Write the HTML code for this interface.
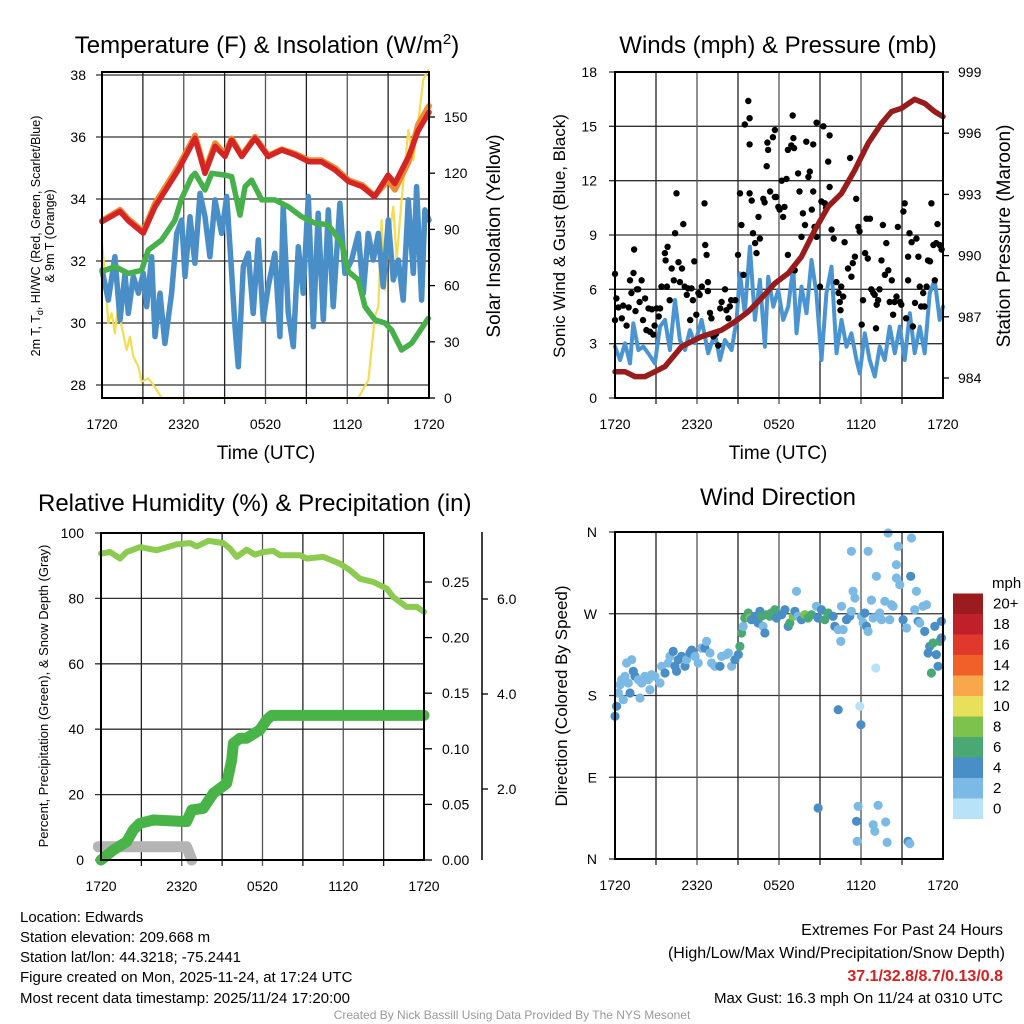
<!DOCTYPE html>
<html><head><meta charset="utf-8">
<style>
html,body{margin:0;padding:0;background:#fff;}
svg{display:block;font-family:"Liberation Sans",sans-serif;}
</style></head>
<body>
<svg id="chart" width="1024" height="1024" viewBox="0 0 1024 1024" xmlns="http://www.w3.org/2000/svg">
<rect width="1024" height="1024" fill="#fff"/>
<g id="p1"></g>
<g id="p2"></g>
<g id="p3"></g>
<g id="p4"></g>
<g font-size="15" fill="#000">
<text x="20" y="922">Location: Edwards</text>
<text x="20" y="942">Station elevation: 209.668 m</text>
<text x="20" y="962">Station lat/lon: 44.3218; -75.2441</text>
<text x="20" y="982">Figure created on Mon, 2025-11-24, at 17:24 UTC</text>
<text x="20" y="1003">Most recent data timestamp: 2025/11/24 17:20:00</text>
</g>
<g font-size="16" text-anchor="end">
<text x="1003" y="935">Extremes For Past 24 Hours</text>
<text x="1005" y="958">(High/Low/Max Wind/Precipitation/Snow Depth)</text>
<text x="1003" y="981" fill="#d42020" font-weight="bold">37.1/32.8/8.7/0.13/0.8</text>
<text x="1003" y="1003" font-size="15">Max Gust: 16.3 mph On 11/24 at 0310 UTC</text>
</g>
<text x="512" y="1019" font-size="12" fill="#999" text-anchor="middle">Created By Nick Bassill Using Data Provided By The NYS Mesonet</text>
</svg>
<script>
// ---------- DATA ----------
const xTickLabels = ["1720","2320","0520","1120","1720"];
// Panel 1
const tempHours = [0,1.32,1.93,3.03,3.89,5.6,6.83,7.56,8.3,9.03,9.52,10.25,11.23,12.2,13.2,14.2,15.2,16.1,17.1,18.1,19.1,20.0,21.0,21.5,22.5,23.2,24];
const tempVals = [33.27,33.6,33.3,32.9,33.75,34.94,35.96,34.83,35.7,35.37,35.9,35.37,35.96,35.37,35.58,35.42,35.2,35.2,34.94,34.56,34.4,34.07,34.77,34.5,35.37,36.2,36.8];
const orangeVals = [33.3,33.65,33.35,32.95,33.85,35.05,36.05,34.9,35.8,35.45,35.95,35.4,36.0,35.4,35.6,35.45,35.25,35.25,35.0,34.6,34.45,34.1,34.6,34.3,35.2,36.4,37.0];
const dewHours = [0,0.95,1.93,2.91,3.4,4.38,5.36,5.85,6.58,6.83,7.56,8.05,9.03,9.52,10.13,10.5,10.98,11.72,12.7,13.68,14.65,15.63,16.61,17.59,18.08,18.81,19.3,20.03,20.77,21.26,21.99,22.73,23.22,23.95];
const dewVals = [31.66,31.82,31.6,31.7,32.35,32.68,33.32,34.02,34.72,34.83,34.29,34.83,34.77,34.72,33.48,34.4,34.61,33.97,33.97,33.75,33.43,33.22,33.17,32.57,31.66,31.39,30.53,30.1,30.0,29.77,29.13,29.35,29.67,30.15];
const wcHours = [0,0.46,0.95,1.32,1.69,1.93,2.3,2.67,3.03,3.28,3.64,3.89,4.26,4.62,5.11,5.48,5.85,6.09,6.46,6.82,7.19,7.56,7.92,8.29,8.78,9.15,9.52,9.76,10.0,10.37,10.74,11.1,11.47,11.84,12.2,12.69,13.06,13.3,13.67,14.04,14.41,14.77,15.14,15.51,15.87,16.24,16.61,16.97,17.46,17.83,18.32,18.81,19.18,19.54,19.91,20.28,20.64,21.01,21.38,21.75,22.11,22.48,22.85,23.09,23.46,23.7,24];
const wcVals = [31.71,30.74,32.14,30.10,31.60,30.31,31.50,30.96,31.60,30.53,32.14,29.56,30.96,29.34,30.96,32.89,33.32,31.50,33.43,31.93,34.18,33.43,32.14,33.97,32.89,34.08,31.60,29.88,28.59,31.82,32.25,30.31,32.68,30.10,31.17,32.25,29.56,33.75,30.31,29.24,32.46,30.96,34.08,29.88,33.54,30.10,33.65,30.53,33.86,31.60,32.03,32.89,30.96,32.89,32.03,32.89,31.17,33.32,31.39,32.03,30.74,33.97,31.60,34.40,30.74,33.65,33.32];
const solarHours = [0,0.24,0.46,0.71,0.95,1.2,1.44,1.81,2.05,2.3,2.67,2.91,3.4,3.77,4.38,18.81,19.55,20.03,20.28,20.52,20.77,21.01,21.38,21.62,21.99,22.48,22.85,23.22,23.58,23.95];
const solarVals = [82.6,64.8,39.9,45.2,34.5,50.5,38.1,25.6,32.7,22.1,16.7,8.7,10.5,6.9,0,0,9.6,43.4,48.8,95,57.7,82.6,102.1,73.7,105.7,143,127,148,170,175];
const tempTicks = [28,30,32,34,36,38];
const solarTicks = [0,30,60,90,120,150];
// Panel 2
const pressHours = [0,0.73,1.46,2.19,2.92,3.65,4.87,6.34,7.8,8.77,9.75,10.72,11.7,12.67,13.65,14.62,15.6,16.57,17.55,18.52,19.5,20.23,20.96,21.93,22.66,23.39,24];
const pressVals = [984.31,984.31,984.07,984.07,984.31,984.56,985.54,986.03,986.35,986.76,987.25,987.91,988.64,989.13,989.95,991.25,992.4,993.05,994.2,995.5,996.48,997.06,997.22,997.66,997.46,997.06,996.81];
const windHours = [0,0.37,0.73,1.1,1.34,1.71,2.07,2.44,2.92,3.29,3.66,4.02,4.39,4.75,5.12,5.48,5.85,6.34,6.82,7.31,7.68,8.04,8.53,8.9,9.14,9.5,9.87,10.24,10.6,10.97,11.21,11.58,11.94,12.31,12.67,13.04,13.28,13.65,14.01,14.38,14.74,15.11,15.47,15.84,16.21,16.57,16.94,17.3,17.67,17.91,18.28,18.64,19.01,19.37,19.74,20.1,20.47,20.84,21.2,21.57,21.93,22.3,22.66,23.03,23.39,23.76,24];
const windVals = [2.83,2.10,3.02,1.91,4.12,2.65,2.83,2.47,1.91,3.94,4.31,2.65,5.41,3.2,2.65,3.75,3.02,4.31,2.47,3.57,2.10,3.2,2.65,4.31,6.88,4.68,8.36,4.31,6.52,2.83,6.7,5.04,5.96,4.31,5.04,7.25,3.57,6.15,4.68,7.62,5.78,2.10,5.78,7.25,2.47,4.31,2.83,3.57,2.10,1.36,3.57,2.10,1.18,2.83,2.10,3.94,2.47,3.94,2.10,4.68,2.47,3.94,2.47,5.78,6.52,4.31,5.04];
const gustHours = [0,0,0.1,0.25,0.6,0.5,0.85,1.0,1.1,1.2,1.4,1.35,1.5,1.6,1.7,1.8,1.95,2.05,2.2,2.3,2.45,2.55,2.7,2.8,2.9,3.05,3.2,3.3,3.4,3.65,3.7,3.85,3.8,4.0,4.15,4.3,4.4,4.5,4.65,4.75,4.9,5.0,5.1,5.25,5.35,5.5,5.6,5.7,5.8,5.95,6.1,6.2,6.35,6.55,6.6,6.7,6.8,6.8,6.95,7.05,7.2,7.4,7.55,7.7,7.8,8.05,8.15,8.3,8.4,8.5,8.8,9.0,9.15,9.25,9.4,9.5,9.75,9.85,9.85,9.85,10.0,10.1,10.25,10.35,10.5,10.6,10.85,10.95,11.1,11.15,11.2,11.35,11.55,11.7,11.7,11.8,11.95,12.05,12.2,12.3,12.4,12.55,12.65,12.65,12.9,13.05,13.1,13.0,13.15,13.4,13.5,13.65,13.75,13.9,14.0,14.15,14.25,14.4,14.5,14.5,14.6,14.75,14.75,15.0,15.1,15.25,15.35,15.45,15.6,15.7,15.7,15.85,16.0,16.2,16.35,16.45,16.5,16.55,16.7,16.8,17.05,17.2,17.3,17.4,17.55,17.65,17.8,17.9,18.05,18.15,18.3,18.4,18.5,18.65,18.75,18.9,19.0,19.1,19.15,19.25,19.35,19.5,19.6,19.75,19.85,20.0,20.1,20.25,20.35,20.45,20.6,20.7,20.85,20.95,21.1,21.2,21.3,21.45,21.45,21.55,21.7,21.8,21.95,22.05,22.2,22.3,22.4,22.55,22.65,22.8,22.9,23.05,23.15,23.3,23.4,23.5,23.6,23.75,23.9];
const gustVals = [6.85,4.3,5.5,5.0,5.1,4.4,4.0,5.0,6.5,5.8,8.2,6.9,4.8,6.0,6.0,5.3,6.5,4.3,5.5,3.75,4.95,3.66,4.9,3.5,4.0,4.95,4.5,4.95,6.15,8.0,7.6,8.35,6.15,5.4,7.15,6.5,9.1,11.3,7.5,6.4,7.15,9.6,6.15,5.7,6.05,4.3,6.05,5.4,7.55,4.6,5.8,5.7,6.15,10.75,8.45,7.9,6.4,5.9,4.7,4.4,3.4,3.55,2.9,4.95,5.3,6.0,4.85,4.4,5.05,5.4,5.4,7.9,11.3,9.55,6.8,15.1,16.4,15.45,14.0,11.3,10.9,9.1,8.55,8.0,10.0,8.8,11.0,10.8,12.8,14.1,13.7,11.4,14.4,14.8,11.1,11.1,10.55,10.4,12.0,10.0,10.55,12.1,7.9,13.7,13.95,14.35,13.8,15.6,7.05,12.4,11.4,8.9,10.2,9.55,14.15,12.2,12.5,10.4,11.4,14.0,9.45,15.2,8.9,6.15,10.85,15.0,10.75,10.5,13.05,14.5,11.65,9.3,8.8,6.4,5.8,5.3,4.85,6.15,5.6,8.6,7.15,13.25,6.7,7.45,7.8,11.0,9.45,9.2,4.05,5.4,8.0,9.9,7.7,9.9,6.0,5.8,5.7,3.85,5.15,5.4,6.0,7.6,9.55,6.8,8.55,7.05,5.3,6.5,4.6,5.3,5.6,9.45,5.3,5.15,10.3,10.75,4.4,7.8,6.5,9.1,8.6,3.95,5.25,8.8,7.8,6.15,5.05,5.8,5.05,6.15,7.6,7.55,10.75,8.45,6.5,8.55,9.6,8.45,8.2];
const windTicks = [0,3,6,9,12,15,18];
const pressTicks = [984,987,990,993,996,999];
// Panel 3
const rhHours = [0,0.67,1.41,1.91,2.9,4.14,5.62,6.61,7.11,7.98,9.09,9.59,10.08,10.82,11.44,12.06,12.81,13.3,14.79,15.28,16.52,17.76,18.5,19.25,20.24,21.23,21.72,22.71,23.46,24];
const rhVals = [93.7,94.2,92.2,94.2,95.7,94.7,96.5,96.9,95.9,97.6,96.9,95.2,92.7,94.9,93.4,94.2,94.5,93.2,93.2,92.2,92.7,90.6,88.6,86.0,85.0,83.0,80.4,77.4,77.4,75.9];
const precipHours = [0,0.92,1.91,2.4,2.9,3.89,6.36,6.75,7.6,8.35,9.34,9.71,9.84,10.33,10.82,11.81,12.31,12.68,24];
const precipVals = [0,0.009,0.0165,0.027,0.033,0.036,0.0345,0.045,0.0465,0.06,0.069,0.09,0.105,0.1095,0.1095,0.117,0.126,0.13,0.13];
const snowHours = [-0.2,6.36,6.75];
const snowVals = [0.012,0.012,0.0];
const rhTicks = [0,20,40,60,80,100];
const precipTicks = ["0.00","0.05","0.10","0.15","0.20","0.25"];
const snowTicks = ["2.0","4.0","6.0"];
// Panel 4
const dirHours = [0,0.12,0.24,0.37,0.49,0.61,0.73,0.85,0.97,1.1,1.22,1.34,1.46,1.71,1.83,1.95,2.19,2.44,2.56,2.68,2.92,3.29,3.41,3.66,3.9,4.02,4.26,4.39,4.51,4.63,4.87,5.12,5.24,5.48,5.61,5.85,6.09,6.34,6.58,6.7,6.95,7.07,7.31,7.68,7.8,8.16,8.29,8.53,8.77,9.02,9.14,9.26,9.38,9.5,9.75,9.87,9.99,10.24,10.48,10.6,10.72,10.84,10.97,11.09,11.33,11.45,11.7,11.82,12.19,12.43,12.67,12.79,13.04,13.16,13.28,13.4,13.65,13.89,14.13,14.38,14.74,14.86,15.11,15.35,15.6,15.96,16.08,16.33,16.52,16.57,16.69,16.94,17.18,17.3,17.42,17.55,17.3,18.03,18.16,18.28,18.4,18.52,18.52,18.76,18.89,19.13,19.08,19.37,19.5,19.74,20.1,20.23,20.35,19.98,20.59,20.59,20.72,20.84,21.08,21.33,21.69,21.64,21.93,22.05,22.18,22.3,22.54,22.66,22.79,22.91,23.03,23.15,23.27,23.4,23.52,23.64,23.76,23.88,23.88,16.33,17.91,17.99,14.86,17.79,17.67,17.72,18.89,19.01,19.25,19.81,19.91,21.45,21.57];
const dirVals = [157.1,168.1,182.8,191.9,197.4,175.4,201.1,215.8,193.8,182.8,219.4,206.6,201.1,197.4,177.2,193.8,201.1,197.4,186.4,202.9,201.1,193.8,212.1,204.8,215.8,223.1,228.6,212.1,206.6,219.4,223.1,212.1,219.4,226.8,230.0,223.1,215.8,232.3,232.3,239.6,226.8,215.8,212.1,212.1,223.1,225.0,226.8,212.1,219.4,225.0,234.1,248.8,256.1,265.3,270.8,265.3,263.5,267.2,259.8,272.7,267.2,256.1,248.8,269.0,267.2,270.8,274.5,265.3,269.0,274.5,256.1,259.8,267.2,272.7,294.7,267.2,263.5,269.0,265.3,269.0,278.2,265.3,274.5,263.5,270.8,267.2,256.1,252.5,239.6,278.2,252.5,263.5,267.2,338.7,294.7,287.3,272.7,267.2,259.8,270.8,256.1,250.6,338.7,285.0,265.3,311.2,210.3,270.8,263.5,283.7,263.5,280.0,278.2,358.9,324.0,309.4,344.2,302.0,263.5,254.3,353.4,311.2,274.5,294.7,261.7,259.8,278.2,250.6,280.0,226.8,234.1,204.8,237.8,256.1,225.0,212.1,239.6,261.7,243.3,164.4,168.1,147.9,56.1,58.0,41.5,19.4,37.8,30.5,59.1,40.7,18.3,19.4,16.9];
const dirSpeed = [4,4,2,2,2,2,2,2,2,4,2,4,4,2,2,2,2,2,2,2,2,2,2,4,2,2,4,4,4,4,4,4,2,4,4,2,2,2,4,2,2,2,2,4,2,2,2,2,4,4,6,6,2,6,6,8,4,4,4,4,6,2,4,6,6,6,6,4,4,4,4,6,8,4,2,2,4,8,6,6,2,4,4,6,6,4,4,2,2,2,2,4,4,2,2,2,2,2,2,4,4,2,2,2,2,2,0,2,2,2,2,2,2,2,2,2,2,2,4,2,2,4,2,2,4,2,2,4,2,4,4,6,6,4,4,4,6,4,4,4,0,4,4,2,4,2,2,2,2,2,2,4,2,2,2,4];
const dirTicks = ["N","E","S","W","N"];
const speedLabels = ["0","2","4","6","8","10","12","14","16","18","20+"];
const speedColors = ["#b8e2f8","#7cbae6","#4a8ec8","#4aa874","#7ec24e","#e8e05a","#f8a84a","#f06028","#e0382a","#c0202a","#9b1b1e"];

// ---------- HELPERS ----------
const NS="http://www.w3.org/2000/svg";
function el(parent,tag,attrs,text){const e=document.createElementNS(NS,tag);for(const k in attrs)e.setAttribute(k,attrs[k]);if(text!==undefined)e.textContent=text;parent.appendChild(e);return e;}
function lin(d0,d1,r0,r1){return v=>r0+(v-d0)/(d1-d0)*(r1-r0);}
function pathD(xs,ys,fx,fy){return xs.map((h,i)=>(i?"L":"M")+fx(h).toFixed(1)+","+fy(ys[i]).toFixed(1)).join("");}

function frame(g,x0,x1,y0,y1,fx){
  for(let h=3;h<24;h+=3){
    const l=el(g,"line",{x1:fx(h),x2:fx(h),y1:y0,y2:y1+6,stroke:h%6===0?"#555":"#222","stroke-width":1.3});
    
    
  }
  xTickLabels.forEach((t,i)=>{
    const tx=el(g,"text",{x:fx(i*6),y:y1+31,"font-size":14,"text-anchor":"middle"},t);
    
    
  });
}
function box(g,x0,x1,y0,y1){
  const r=el(g,"rect",{x:x0,y:y0,width:x1-x0,height:y1-y0,fill:"none",stroke:"#000","stroke-width":2});
  
  
}
function hgrid(g,x0,x1,y,label,lx,anchor){
  const l=el(g,"line",{x1:x0-6,x2:x1,y1:y,y2:y,stroke:"#333","stroke-width":1.3});
  
  
  const t=el(g,"text",{x:lx,y:y+5,"font-size":14,"text-anchor":anchor},label);
  
  
}
function title(g,x,y,txt,anchor){
  const t=el(g,"text",{x:x,y:y,"font-size":24,"text-anchor":anchor||"middle"});
  t.innerHTML=txt;
  
  
  return t;
}
function vlabel(g,x,y,txt,size){
  const t=el(g,"text",{x:0,y:0,"font-size":size,"text-anchor":"middle",transform:`translate(${x},${y}) rotate(-90)`});
  t.innerHTML=txt;
  
  
}
function line(g,xs,ys,fx,fy,color,w,name){
  const p=el(g,"path",{d:pathD(xs,ys,fx,fy),fill:"none",stroke:color,"stroke-width":w,"stroke-linejoin":"round","stroke-linecap":"round"});
  
  
}

// ---------- PANEL 1 ----------
(function(){
  const g=document.getElementById("p1");
  const x0=102,x1=429,y0=72,y1=398;
  const fx=lin(0,24,x0,x1), fy=lin(28,38,385,75), fs=lin(0,150,398,117);
  title(g,267,53,'Temperature (F) &amp; Insolation (W/m<tspan font-size="15" dy="-9">2</tspan><tspan dy="9">)</tspan>');
  tempTicks.forEach(v=>hgrid(g,x0,x1,fy(v),String(v),86,"end"));
  frame(g,x0,x1,y0,y1,fx);
  solarTicks.forEach(v=>{
    const l=el(g,"line",{x1:x1,x2:x1+6,y1:fs(v),y2:fs(v),stroke:"#000","stroke-width":1.3});
    
    
    const t=el(g,"text",{x:x1+15,y:fs(v)+5,"font-size":14},String(v));
    
    
  });
  line(g,solarHours,solarVals,fx,fs,"#f5dc50",2.2,"solar-insolation-line");
  line(g,wcHours,wcVals,fx,fy,"#4a8ec8",5.5,"wind-chill-line");
  line(g,dewHours,dewVals,fx,fy,"#46b04a",5.5,"dewpoint-line");
  line(g,tempHours,orangeVals,fx,fy,"#f08a30",6,"9m-temperature-line");
  line(g,tempHours,tempVals,fx,fy,"#d42424",5.5,"2m-temperature-line");
  box(g,x0,x1,y0,y1);
  vlabel(g,40,236,'2m T, T<tspan font-size="9" dy="3">d</tspan><tspan dy="-3">, HI/WC (Red, Green, Scarlet/Blue)</tspan>',12.5);
  vlabel(g,54,236,'&amp; 9m T (Orange)',12.5);
  vlabel(g,500,236,'Solar Insolation (Yellow)',19);
  const xt=el(g,"text",{x:266,y:459,"font-size":19,"text-anchor":"middle"},"Time (UTC)");
  
  
})();

// ---------- PANEL 2 ----------
(function(){
  const g=document.getElementById("p2");
  const x0=615,x1=943,y0=72,y1=398;
  const fx=lin(0,24,x0,x1), fy=lin(0,18,398,72), fp=lin(984,999,378,72);
  title(g,778,53,'Winds (mph) &amp; Pressure (mb)');
  windTicks.forEach(v=>hgrid(g,x0,x1,fy(v),String(v),597,"end"));
  frame(g,x0,x1,y0,y1,fx);
  pressTicks.forEach(v=>{
    const l=el(g,"line",{x1:x1,x2:x1+6,y1:fp(v),y2:fp(v),stroke:"#000","stroke-width":1.3});
    
    
    const t=el(g,"text",{x:x1+15,y:fp(v)+5,"font-size":14},String(v));
    
    
  });
  line(g,windHours,windVals,fx,fy,"#4a94d2",4,"sustained-wind-line");
  gustHours.forEach((h,i)=>{
    const c=el(g,"circle",{cx:fx(h).toFixed(1),cy:fy(gustVals[i]).toFixed(1),r:3.2,fill:"#000"});
    
    
  });
  line(g,pressHours,pressVals,fx,fp,"#981c1c",5.5,"pressure-line");
  box(g,x0,x1,y0,y1);
  vlabel(g,565,236,'Sonic Wind &amp; Gust (Blue, Black)',17);
  vlabel(g,1010,236,'Station Pressure (Maroon)',19);
  const xt=el(g,"text",{x:778,y:459,"font-size":19,"text-anchor":"middle"},"Time (UTC)");
  
  
})();

// ---------- PANEL 3 ----------
(function(){
  const g=document.getElementById("p3");
  const x0=101,x1=424,y0=533,y1=860;
  const fx=lin(0,24,x0,x1), fy=lin(0,100,860,533), fpr=lin(0,0.25,860,582), fsn=lin(0,2,884,789);
  title(g,38,511,'Relative Humidity (%) &amp; Precipitation (in)',"start");
  rhTicks.forEach(v=>hgrid(g,x0,x1,fy(v),String(v),84,"end"));
  frame(g,x0,x1,y0,y1,fx);
  precipTicks.forEach(v=>{
    const y=fpr(parseFloat(v));
    const l=el(g,"line",{x1:x1,x2:x1+8,y1:y,y2:y,stroke:"#000","stroke-width":1.3});
    
    
    const t=el(g,"text",{x:x1+18,y:y+5,"font-size":14},v);
    
    
  });
  const ax=el(g,"line",{x1:482,x2:482,y1:532,y2:860,stroke:"#000","stroke-width":1.5});
  
  
  snowTicks.forEach(v=>{
    const y=fsn(parseFloat(v));
    const l=el(g,"line",{x1:482,x2:488,y1:y,y2:y,stroke:"#000","stroke-width":1.3});
    
    
    const t=el(g,"text",{x:497,y:y+5,"font-size":14},v);
    
    
  });
  line(g,snowHours,snowVals,fx,fpr,"#b4b4b4",11,"snow-depth-line");
  line(g,precipHours,precipVals,fx,fpr,"#48b448",11,"precipitation-line");
  line(g,rhHours,rhVals,fx,fy,"#8cca50",6,"relative-humidity-line");
  box(g,x0,x1,y0,y1);
  vlabel(g,48,696,'Percent, Precipitation (Green), &amp; Snow Depth (Gray)',13);
})();

// ---------- PANEL 4 ----------
(function(){
  const g=document.getElementById("p4");
  const x0=615,x1=943,y0=532,y1=859;
  const fx=lin(0,24,x0,x1), fy=lin(0,360,859,532);
  title(g,778,505,'Wind Direction');
  dirTicks.forEach((t,i)=>hgrid(g,x0,x1,fy(i*90),t,597,"end"));
  frame(g,x0,x1,y0,y1,fx);
  dirHours.forEach((h,i)=>{
    const s=(dirSpeed[i]!==undefined)?dirSpeed[i]:2;
    const c=el(g,"circle",{cx:fx(h).toFixed(1),cy:fy(dirVals[i]).toFixed(1),r:4.6,fill:speedColors[Math.min(10,Math.round(s/2))]});
    
    
  });
  box(g,x0,x1,y0,y1);
  vlabel(g,567,696,'Direction (Colored By Speed)',17);
  const m=el(g,"text",{x:992,y:588,"font-size":15},"mph");
  
  
  speedLabels.forEach((lab,i)=>{
    const y=798.5-i*20.5;
    const r=el(g,"rect",{x:953,y:y,width:30,height:20.5,fill:speedColors[i]});
    
    
    const t=el(g,"text",{x:993,y:y+15,"font-size":15},lab);
    
    
  });
})();
</script>
</body></html>
